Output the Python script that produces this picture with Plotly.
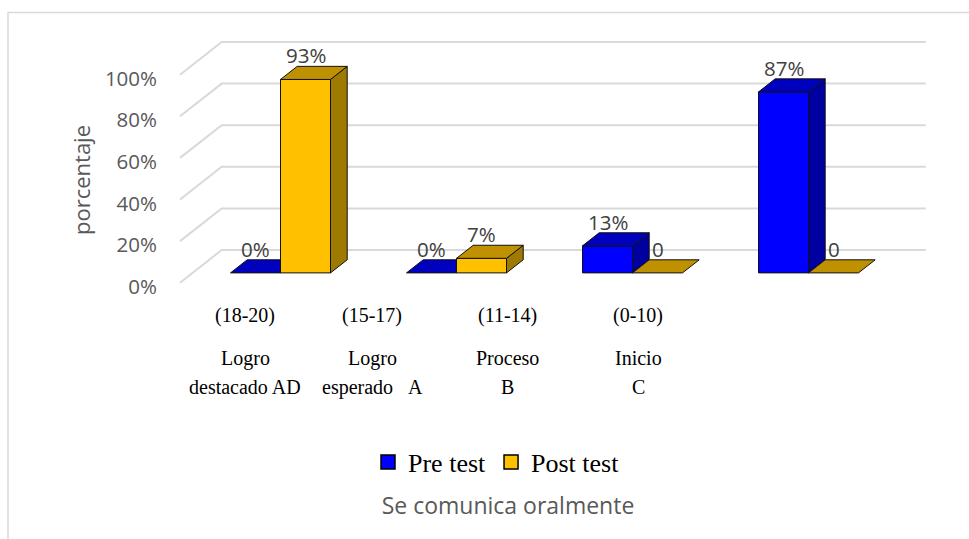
import plotly.graph_objects as go

# ---------------- data ----------------
range_labels = ["(18-20)", "(15-17)", "(11-14)", "(0-10)"]
level_line1 = ["Logro", "Logro", "Proceso", "Inicio"]
level_line2 = ["destacado AD", "esperado\u00a0\u00a0\u00a0A", "B", "C"]
series_names = ["Pre test", "Post test"]
pre_test = [0.0, 0.0, 0.13, 0.87]
post_test = [0.93, 0.07, 0.0, 0.0]
pre_labels = ["0%", "0%", "13%", "87%"]
post_labels = ["93%", "7%", "0", "0"]
y_ticks = [0, 0.2, 0.4, 0.6, 0.8, 1.0]
chart_title = "Se comunica oralmente"
y_title = "porcentaje"

# ---------------- style / geometry ----------------
W, H = 969, 539
L, R, T, B = 162, 950, 20, 340            # plot area in px
U0_PX, USCALE = 180.0, 176.0              # px of category origin, px per category
V0_PX, VSCALE = 282.7, 208.0              # px of value 0 (front), px per 100%
X_RANGE = [(L - U0_PX) / USCALE, (R - U0_PX) / USCALE]
Y_RANGE = [(V0_PX - B) / VSCALE, (V0_PX - T) / VSCALE]
DX, DV = 41.7 / USCALE, 32.7 / VSCALE     # full depth offset (axis units)
D0, D1 = 0.3, 0.7                         # bar depth span (front->back)
BW = 50.0 / USCALE                        # bar width in category units

front_cols = ["#0000FF", "#FFC000"]
top_cols = ["#0000BF", "#BF9000"]
side_cols = ["#0000A0", "#9E7A00"]
edge = "#111111"
grid_col = "#D9D9D9"
label_col = "#404040"
axis_col = "#595959"
sans = "Open Sans"
serif = "Liberation Serif"

# label positions (px) for the free-standing category texts
label_px_x = [245, 372, 507, 638]
range_px_y = 315
line1_px_y = 358
line2_px_y = 387


def px2paper_x(p):
    return (p - L) / (R - L)


def px2paper_y(p):
    return (B - p) / (B - T)


fig = go.Figure()

# back wall gridlines + left wall diagonals
gx, gy = [], []
n_cat = len(range_labels)
for v in y_ticks:
    gx += [0, DX, n_cat + DX, None]
    gy += [v, v + DV, v + DV, None]
fig.add_trace(go.Scatter(x=gx, y=gy, mode="lines",
                         line=dict(color=grid_col, width=2),
                         hoverinfo="skip", showlegend=False))


def poly(xs, ys, color):
    fig.add_trace(go.Scatter(x=xs + [xs[0]], y=ys + [ys[0]], mode="lines",
                             fill="toself", fillcolor=color,
                             line=dict(color=edge, width=1),
                             hoverinfo="skip", showlegend=False))


series = [pre_test, post_test]
labels = [pre_labels, post_labels]
annotations = []
for i in range(n_cat):
    c = i + 0.5
    for s in range(2):
        v = series[s][i]
        u0 = c - BW + s * BW
        u1 = u0 + BW
        a = (D0 * DX, D0 * DV)
        b = (D1 * DX, D1 * DV)
        if v > 0:
            poly([u0 + a[0], u1 + a[0], u1 + a[0], u0 + a[0]],
                 [a[1], a[1], v + a[1], v + a[1]], front_cols[s])
            poly([u1 + a[0], u1 + b[0], u1 + b[0], u1 + a[0]],
                 [a[1], b[1], v + b[1], v + a[1]], side_cols[s])
        poly([u0 + a[0], u1 + a[0], u1 + b[0], u0 + b[0]],
             [v + a[1], v + a[1], v + b[1], v + b[1]], top_cols[s])
        annotations.append(dict(
            x=(u0 + u1) / 2 + a[0], y=v + b[1], xref="x", yref="y",
            text=labels[s][i], showarrow=False, yanchor="bottom", yshift=-5,
            font=dict(family=sans, size=20.5, color=label_col)))

# legend entries
for s in range(2):
    fig.add_trace(go.Scatter(x=[None], y=[None], mode="markers", name=series_names[s],
                             marker=dict(symbol="square", size=14, color=front_cols[s],
                                         line=dict(color="black", width=1.5))))

# category texts
for i in range(n_cat):
    xp = px2paper_x(label_px_x[i])
    for txt, yp in [(range_labels[i], range_px_y), (level_line1[i], line1_px_y),
                    (level_line2[i], line2_px_y)]:
        annotations.append(dict(x=xp, y=px2paper_y(yp), xref="paper", yref="paper",
                                text=txt, showarrow=False, xanchor="center",
                                yanchor="middle",
                                font=dict(family=serif, size=20, color="black")))

shapes = [dict(type="rect", xref="paper", yref="paper",
               x0=px2paper_x(8), x1=px2paper_x(980),
               y0=px2paper_y(12.5), y1=px2paper_y(560),
               line=dict(color=grid_col, width=1.5), layer="below")]

fig.update_layout(
    width=W, height=H,
    margin=dict(l=L, r=W - R, t=T, b=H - B, autoexpand=False),
    paper_bgcolor="white", plot_bgcolor="white",
    xaxis=dict(range=X_RANGE, visible=False, fixedrange=True),
    yaxis=dict(range=Y_RANGE, tickvals=y_ticks, tickformat=".0%",
               showgrid=False, zeroline=False, showline=False, ticks="",
               ticklabelstandoff=4, ticklabelshift=4, fixedrange=True,
               tickfont=dict(family=sans, size=20.5, color=axis_col),
               title=dict(text=y_title, standoff=8,
                          font=dict(family=sans, size=22, color=axis_col))),
    showlegend=True,
    legend=dict(orientation="h", xref="container", yref="container",
                x=496.5 / W, xanchor="center", y=1 - 462 / H, yanchor="middle",
                font=dict(family=serif, size=26, color="black"),
                itemwidth=30, bgcolor="rgba(0,0,0,0)"),
    title=dict(text=chart_title, xref="container", yref="container",
               x=508 / W, xanchor="center", y=1 - 506 / H, yanchor="middle",
               font=dict(family=sans, size=23, color=axis_col)),
    annotations=annotations,
    shapes=shapes,
)

fig.write_html("out.html", config={"displayModeBar": False},
               post_script="document.body.style.margin='0px';")
